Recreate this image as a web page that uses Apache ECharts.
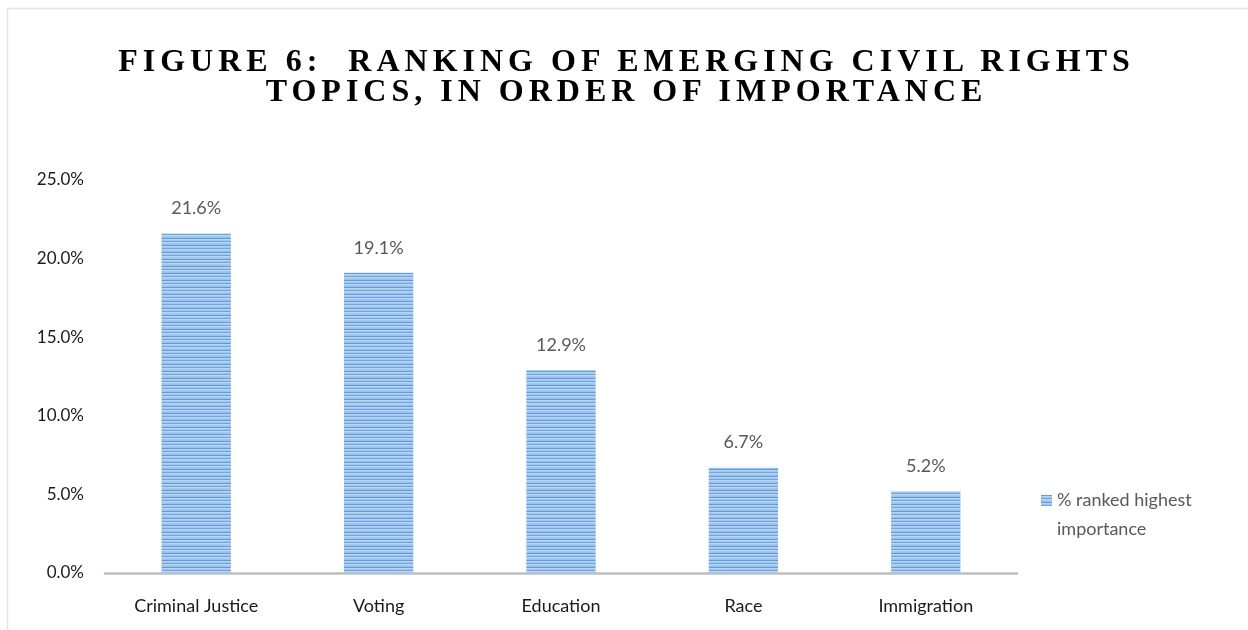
<!DOCTYPE html>
<html>
<head>
<meta charset="utf-8">
<script src="https://cdn.jsdelivr.net/npm/echarts@6/dist/echarts.min.js"></script>
<style>
  html, body { margin: 0; padding: 0; background: #ffffff; }
  #wrap { position: relative; width: 1248px; height: 630px; overflow: hidden; }
  #chart { position: absolute; left: 0; top: 0; width: 1248px; height: 630px; }
  #title {
    position: absolute; left: 0; top: 45px; width: 1248px;
    text-align: center; box-sizing: border-box; padding-left: 5px;
    font-family: "Liberation Serif", "Times New Roman", serif;
    font-weight: bold; font-size: 32px; line-height: 30px;
    letter-spacing: 5px; color: #000000; pointer-events: none;
  }
</style>
</head>
<body>
<div id="wrap">
  <div id="chart"></div>
  <div id="title">FIGURE 6:&nbsp; RANKING OF EMERGING CIVIL RIGHTS<br>TOPICS, IN ORDER OF IMPORTANCE</div>
</div>
<script>
// Survey topics and the share of respondents ranking each as most important
const categories = ['Criminal Justice', 'Voting', 'Education', 'Race', 'Immigration'];
const values = [21.6, 19.1, 12.9, 6.7, 5.2];
const seriesName = '% ranked highest importance';
const yMin = 0;
const yMax = 25;
const yStep = 5;

// Horizontal pinstripe fill used for the bars and the legend swatch
function stripePattern() {
  const c = document.createElement('canvas');
  c.width = 4;
  c.height = 7;
  const ctx = c.getContext('2d');
  const rows = ['#5f9bd8', '#b7d4f2', '#a3c6ec', '#6ea6dd', '#b9d5f2', '#a6c8ec', '#9cc2ea'];
  rows.forEach((col, i) => { ctx.fillStyle = col; ctx.fillRect(0, i, 4, 1); });
  return { image: c, repeat: 'repeat' };
}

const labelFont = 'Lato, "Open Sans", sans-serif';
const chart = echarts.init(document.getElementById('chart'), null, { renderer: 'canvas' });

chart.setOption({
  backgroundColor: '#ffffff',
  animation: false,
  graphic: [{
    type: 'polyline',
    silent: true,
    shape: { points: [[7.5, 630], [7.5, 8.5], [1248, 8.5]] },
    style: { stroke: '#e4e4e4', lineWidth: 1.5, fill: null }
  }],
  grid: { left: 105, right: 231, top: 180, bottom: 57, containLabel: false },
  legend: {
    left: 1036,
    top: 452,
    orient: 'vertical',
    icon: 'rect',
    itemWidth: 11,
    itemHeight: 11,
    itemGap: 5,
    // leading blank line keeps the swatch level with the first text line
    formatter: () => '\n% ranked highest\nimportance',
    textStyle: { fontFamily: labelFont, fontSize: 18, color: '#595959', lineHeight: 29 },
    data: [seriesName]
  },
  xAxis: {
    type: 'category',
    data: categories,
    axisLine: { show: true, lineStyle: { color: '#bfbfbf', width: 2.5 } },
    axisTick: { show: false },
    axisLabel: { margin: 24, fontFamily: labelFont, fontSize: 18, color: '#1a1a1a', interval: 0 },
    splitLine: { show: false }
  },
  yAxis: {
    type: 'value',
    min: yMin,
    max: yMax,
    interval: yStep,
    axisLine: { show: false },
    axisTick: { show: false },
    splitLine: { show: false },
    axisLabel: {
      margin: 21, fontFamily: labelFont, fontSize: 17, color: '#1a1a1a',
      formatter: v => v.toFixed(1) + '%'
    }
  },
  series: [{
    name: seriesName,
    type: 'bar',
    data: values,
    barWidth: '38%',
    itemStyle: { color: stripePattern() },
    label: {
      show: true,
      position: 'top',
      distance: 16,
      fontFamily: labelFont,
      fontSize: 18,
      color: '#595959',
      formatter: p => p.value.toFixed(1) + '%'
    }
  }]
});
</script>
</body>
</html>
